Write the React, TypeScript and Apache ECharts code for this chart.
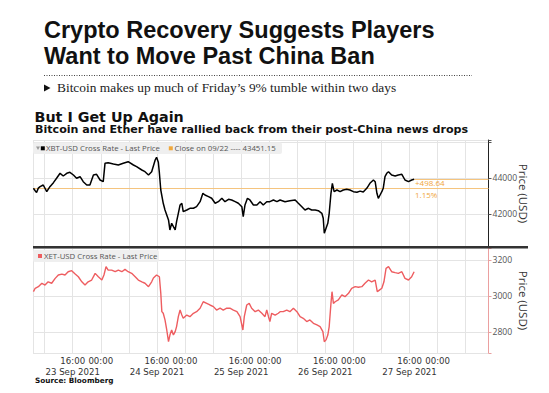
import React, { useEffect, useRef } from "react";
import * as echarts from "echarts";

// ---------- data (hours since 23 Sep 2021 00:00) ----------
const btcHours = [
  4.8, 5.3, 5.7, 6.2, 6.7, 7.6, 8.6, 9.5, 10.5, 11.4, 12.4, 13.3, 14.3, 15.2, 16.2, 17.1, 18.1, 19.0, 20.0, 20.9,
  21.9, 22.8, 23.8, 24.7, 25.2, 26.1, 27.6, 29.0, 30.4, 31.8, 33.3, 34.2, 35.7, 36.6, 37.6, 38.5, 39.5, 39.9, 40.4, 40.7,
  41.1, 41.8, 42.3, 43.3, 43.7, 44.2, 44.7, 45.2, 45.6, 46.1, 46.6, 47.1, 47.5, 48.5, 49.4, 50.4, 51.3, 52.3, 53.1, 53.7,
  54.7, 55.6, 56.6, 57.5, 58.5, 59.4, 60.4, 61.3, 62.3, 63.2, 64.2, 64.6, 65.1, 65.8, 66.5, 67.5, 68.5, 69.4, 70.3, 71.3,
  72.2, 73.2, 74.2, 75.1, 76.5, 77.9, 79.4, 80.3, 81.3, 82.2, 83.2, 84.1, 85.1, 86.0, 87.0, 87.4, 87.7, 88.2, 88.7, 89.1,
  89.6, 90.0, 90.5, 91.3, 92.2, 93.1, 94.1, 95.0, 96.0, 97.0, 97.9, 98.8, 99.8, 100.7, 101.7, 102.2, 102.7, 103.1, 103.6, 104.1,
  104.5, 105.0, 105.5, 106.0, 106.9, 107.9, 108.8, 109.8, 110.7, 111.7, 112.6, 113.3,
];
const btcPrices = [
  43440, 43300, 43200, 43450, 43530, 43625, 43250, 43530, 43755, 44000, 44280, 44130, 44280, 44335, 44185, 44000, 44090, 43810, 43625, 43625,
  44185, 44225, 43905, 43810, 44840, 44875, 44800, 44745, 44840, 44930, 44745, 44650, 44465, 44370, 44185, 44370, 45025, 45180, 44900, 44300,
  43345, 42600, 42225, 41665, 41105, 41480, 41290, 41105, 41570, 42040, 42505, 42600, 42130, 42225, 42320, 42320, 42410, 42690, 43160, 43065,
  42970, 42880, 42600, 42690, 42880, 42690, 42825, 42785, 42690, 42600, 42410, 41850, 42505, 42880, 42785, 42505, 42505, 42690, 42505, 42690,
  42690, 42785, 42690, 42785, 42690, 42745, 42785, 42600, 42410, 42225, 42320, 42225, 42225, 42185, 42040, 41760, 40920, 41200, 41480, 42040,
  43160, 43720, 43250, 43345, 43250, 43345, 43385, 43345, 43250, 43220, 43280, 43230, 43440, 43720, 43905, 43810, 43160, 42880, 43065, 43250,
  43440, 44090, 44280, 44370, 44185, 44130, 44185, 44225, 43905, 43810, 43905, 43949.79,
];
const ethHours = [
  4.8, 5.3, 6.2, 7.2, 8.1, 9.0, 10.0, 11.0, 11.9, 12.9, 13.8, 14.7, 15.7, 16.7, 17.6, 18.6, 19.5, 20.4, 21.4, 22.4,
  23.3, 24.3, 24.9, 25.5, 26.1, 27.1, 28.1, 29.0, 30.0, 30.9, 31.8, 32.8, 33.8, 34.7, 35.7, 36.6, 37.6, 38.5, 39.0, 39.9,
  40.7, 41.1, 41.4, 41.8, 42.3, 42.8, 43.3, 43.7, 44.2, 44.7, 45.2, 45.6, 46.1, 46.6, 47.1, 47.5, 48.5, 49.4, 50.4, 51.3,
  52.3, 53.2, 54.2, 55.1, 56.1, 57.0, 58.0, 58.9, 59.9, 60.8, 61.8, 62.8, 63.7, 64.5, 64.9, 65.6, 66.3, 67.0, 68.0, 68.9,
  69.9, 70.8, 71.3, 71.8, 72.2, 72.7, 73.7, 74.6, 75.1, 76.0, 77.0, 77.9, 78.9, 79.9, 80.8, 81.7, 82.7, 83.6, 84.6, 85.6,
  86.5, 87.3, 87.7, 88.2, 88.7, 89.1, 89.6, 89.9, 90.3, 90.8, 91.7, 92.7, 93.6, 94.6, 95.5, 96.5, 97.4, 98.4, 99.3, 100.3,
  101.2, 102.2, 102.8, 103.4, 104.1, 104.7, 105.3, 106.0, 106.9, 107.9, 108.8, 109.8, 110.7, 111.7, 112.6, 113.3,
];
const ethPrices = [
  3024, 3043, 3052, 3071, 3061, 3079, 3071, 3098, 3117, 3122, 3117, 3135, 3141, 3122, 3107, 3079, 3061, 3079, 3089, 3126,
  3107, 3089, 3117, 3163, 3144, 3144, 3135, 3144, 3135, 3148, 3135, 3126, 3107, 3089, 3079, 3071, 3052, 3079, 3100, 3117,
  3107, 3015, 2913, 2904, 2867, 2811, 2746, 2783, 2811, 2783, 2802, 2830, 2885, 2922, 2894, 2876, 2894, 2885, 2904, 2913,
  2932, 2968, 2959, 2950, 2941, 2922, 2932, 2922, 2932, 2932, 2922, 2913, 2885, 2811, 2885, 2950, 2959, 2932, 2913, 2922,
  2904, 2885, 2922, 2885, 2858, 2904, 2894, 2904, 2913, 2913, 2922, 2913, 2932, 2913, 2885, 2876, 2858, 2867, 2848, 2839,
  2830, 2802, 2746, 2756, 2783, 2830, 2959, 3024, 2959, 2968, 2978, 3006, 2996, 3015, 3043, 3052, 3049, 3052, 3071, 3089,
  3079, 3089, 3024, 3033, 3043, 3079, 3154, 3163, 3135, 3130, 3126, 3135, 3098, 3089, 3107, 3135,
];
const closePrice = 43451.15;
const closeDate = "09/22";
const dayLabels = ["23 Sep 2021", "24 Sep 2021", "25 Sep 2021", "26 Sep 2021", "27 Sep 2021"];
const btcTickLabels = [42000, 44000];
const ethTickLabels = [2800, 3000, 3200];

const title1 = "Crypto Recovery Suggests Players";
const title2 = "Want to Move Past China Ban";
const deck = "Bitcoin makes up much of Friday\u2019s 9% tumble within two days";
const chartTitle = "But I Get Up Again";
const chartSub = "Bitcoin and Ether have rallied back from their post-China news drops";
const btcName = "XBT-USD Cross Rate - Last Price";
const ethName = "XET-USD Cross Rate - Last Price";
const source = "Source: Bloomberg";

const X_MIN = 4.68;
const X_MAX = 134.5;

export default function App() {
  const ref = useRef<HTMLDivElement>(null);
  useEffect(() => {
    if (!ref.current) return;
    const chart = echarts.init(ref.current, undefined, { renderer: "svg" });
    const btcData = btcHours.map((h, i) => [h, btcPrices[i]]);
    const ethData = ethHours.map((h, i) => [h, ethPrices[i]]);
    const lastH = btcHours[btcHours.length - 1];
    const lastP = btcPrices[btcPrices.length - 1];
    const diff = lastP - closePrice;
    const pct = (diff / closePrice) * 100;

    const txt = (text: string, x: number, y: number, size: number, family: string, weight: string, fill: string) => ({
      type: "text",
      x,
      y,
      silent: true,
      style: {
        text,
        fill,
        fontSize: size,
        fontFamily: family,
        fontWeight: weight,
        align: "left",
        verticalAlign: "middle",
        textAlign: "left",
        textVerticalAlign: "middle",
      },
    });

    const gridLine = { show: true, lineStyle: { color: "#e4e4e4", width: 1 } };
    const yLabelStyle = { color: "#555", fontSize: 8.6, fontFamily: "Open Sans", margin: 4 };
    const nameStyle = { color: "#333", fontSize: 11.5, fontFamily: "Open Sans" };

    chart.setOption({
      animation: false,
      backgroundColor: "#ffffff",
      grid: [
        { left: 33, top: 140, width: 455.5, height: 107 },
        { left: 33, top: 248, width: 455.5, height: 105 },
      ],
      xAxis: [
        {
          type: "value",
          gridIndex: 0,
          min: X_MIN,
          max: X_MAX,
          minInterval: 8,
          maxInterval: 8,
          axisLine: { show: false },
          axisTick: { show: false },
          axisLabel: { show: false },
          splitLine: gridLine,
        },
        {
          type: "value",
          gridIndex: 1,
          min: X_MIN,
          max: X_MAX,
          minInterval: 8,
          maxInterval: 8,
          axisLine: { show: false },
          axisTick: { show: false },
          splitLine: gridLine,
          axisLabel: {
            color: "#333",
            fontSize: 8.6,
            fontFamily: "DejaVu Sans",
            margin: 3,
            lineHeight: 10.5,
            showMinLabel: false,
            showMaxLabel: false,
            formatter: (v: number) => {
              const hr = ((v % 24) + 24) % 24;
              if (Math.abs(hr - 16) < 0.01) return "16:00\n" + (dayLabels[Math.floor(v / 24)] || "");
              if (Math.abs(hr) < 0.01 || Math.abs(hr - 24) < 0.01) return "00:00";
              return "";
            },
          },
        },
      ],
      yAxis: [
        {
          type: "value",
          gridIndex: 0,
          position: "right",
          min: 40151,
          max: 46146,
          minInterval: 2000,
          maxInterval: 2000,
          axisLine: { show: true, lineStyle: { color: "#222", width: 1 } },
          axisTick: { show: true, length: 3, lineStyle: { color: "#555" } },
          splitLine: gridLine,
          axisLabel: {
            ...yLabelStyle,
            formatter: (v: number) => (btcTickLabels.includes(Math.round(v)) ? String(Math.round(v)) : ""),
          },
          name: "Price (USD)",
          nameLocation: "middle",
          nameRotate: -90,
          nameGap: 29,
          nameMoveOverlap: false,
          nameTextStyle: nameStyle,
        },
        {
          type: "value",
          gridIndex: 1,
          position: "right",
          min: 2683,
          max: 3267,
          minInterval: 200,
          maxInterval: 200,
          axisLine: { show: true, lineStyle: { color: "#eba0a0", width: 1 } },
          axisTick: { show: true, length: 3, lineStyle: { color: "#e8a0a0" } },
          splitLine: gridLine,
          axisLabel: {
            ...yLabelStyle,
            formatter: (v: number) => (ethTickLabels.includes(Math.round(v)) ? String(Math.round(v)) : ""),
          },
          name: "Price (USD)",
          nameLocation: "middle",
          nameRotate: -90,
          nameGap: 29,
          nameMoveOverlap: false,
          nameTextStyle: nameStyle,
        },
      ],
      series: [
        {
          type: "line",
          name: btcName,
          xAxisIndex: 0,
          yAxisIndex: 0,
          data: btcData,
          showSymbol: false,
          symbol: "none",
          lineStyle: { color: "#000000", width: 1.5 },
          z: 5,
          markLine: {
            silent: true,
            symbol: "none",
            label: { show: false },
            lineStyle: { color: "#f5c47e", width: 1, type: "solid" },
            data: [
              { yAxis: closePrice },
              [{ coord: [lastH, lastP] }, { coord: [X_MAX, lastP] }],
            ],
          },
        },
        {
          type: "line",
          name: ethName,
          xAxisIndex: 1,
          yAxisIndex: 1,
          data: ethData,
          showSymbol: false,
          symbol: "none",
          lineStyle: { color: "#ee5d60", width: 1.4 },
          z: 5,
        },
      ],
      graphic: [
        txt(title1, 44, 29.5, 23.5, "Liberation Sans", "bold", "#111"),
        txt(title2, 44, 55.5, 23.5, "Liberation Sans", "bold", "#111"),
        {
          type: "line",
          silent: true,
          shape: { x1: 44, y1: 75.5, x2: 472, y2: 75.5 },
          style: { stroke: "#444", lineWidth: 1, lineDash: [1, 1.5] },
        },
        {
          type: "polygon",
          silent: true,
          shape: { points: [[44, 84.5], [50.5, 88], [44, 91.5]] },
          style: { fill: "#111" },
        },
        txt(deck, 57, 87.5, 13.4, "Liberation Serif", "normal", "#222"),
        txt(chartTitle, 34.5, 116.5, 14.3, "DejaVu Sans", "bold", "#111"),
        txt(chartSub, 35, 129.5, 11.1, "DejaVu Sans", "bold", "#111"),
        {
          type: "rect",
          silent: true,
          shape: { x: 33, y: 142.5, width: 249, height: 11.5, r: 2 },
          style: { fill: "#efefef" },
          z: 10,
        },
        {
          type: "polygon",
          silent: true,
          shape: { points: [[36, 146.5], [40, 146.5], [38, 150]] },
          style: { fill: "#999" },
          z: 11,
        },
        { type: "rect", silent: true, shape: { x: 40.8, y: 146.3, width: 4, height: 4 }, style: { fill: "#000" }, z: 11 },
        { ...txt(btcName, 46, 148.3, 7.8, "Open Sans", "normal", "#555"), z: 11 },
        { type: "rect", silent: true, shape: { x: 168.8, y: 146.3, width: 4, height: 4 }, style: { fill: "#f0a83c" }, z: 11 },
        {
          ...txt("Close on " + closeDate + " ---- " + closePrice.toFixed(2), 174.5, 148.3, 7.8, "Open Sans", "normal", "#555"),
          z: 11,
        },
        {
          type: "rect",
          silent: true,
          shape: { x: 33, y: 250, width: 126, height: 12, r: 2 },
          style: { fill: "#efefef" },
          z: 10,
        },
        { type: "rect", silent: true, shape: { x: 38, y: 254, width: 4, height: 4 }, style: { fill: "#ee5d60" }, z: 11 },
        { ...txt(ethName, 44, 256.2, 7.8, "Open Sans", "normal", "#555"), z: 11 },
        {
          type: "line",
          silent: true,
          shape: { x1: 33, y1: 247.2, x2: 528, y2: 247.2 },
          style: { stroke: "#333", lineWidth: 2.4 },
          z: 12,
        },
        { ...txt((diff >= 0 ? "+" : "") + diff.toFixed(2), 415, 182.8, 8, "Open Sans", "normal", "#f0a640"), z: 11 },
        { ...txt(pct.toFixed(2) + "%", 415, 194, 8, "Open Sans", "normal", "#f0a640"), z: 11 },
        txt(source, 35, 380, 7.3, "DejaVu Sans", "bold", "#111"),
      ],
    });
    return () => chart.dispose();
  }, []);
  return (
    <div
      ref={ref}
      style={{ position: "fixed", left: 0, top: 0, width: 549, height: 393, background: "#fff" }}
    />
  );
}
